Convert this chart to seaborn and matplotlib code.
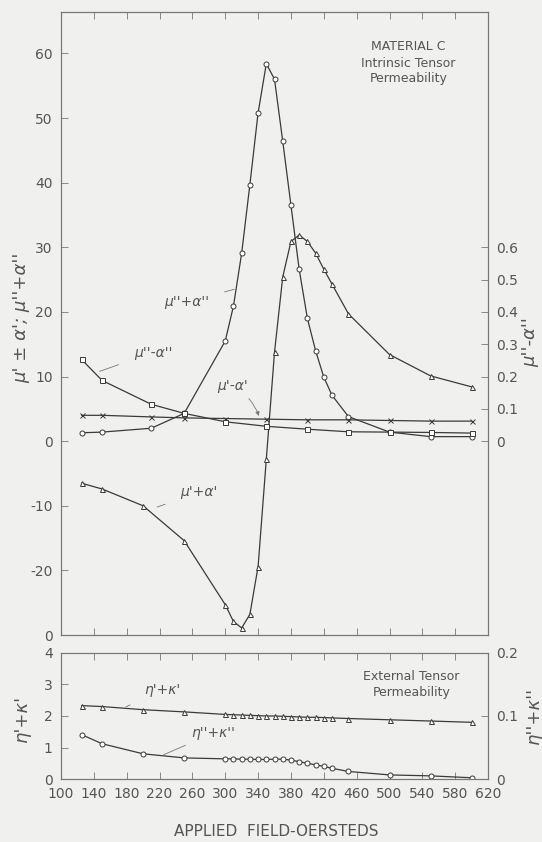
import matplotlib
matplotlib.use("Agg")
import matplotlib.pyplot as plt
import seaborn as sns

# --- data (applied field in oersteds) ---
mu2_plus_x = [125, 150, 210, 250, 300, 310, 320, 330, 340, 350, 360, 370, 380, 390, 400, 410, 420, 430, 450, 500, 550, 600]
mu2_plus = [1.3, 1.4, 2.0, 4.3, 15.5, 20.9, 29.1, 39.7, 50.8, 58.4, 56.0, 46.4, 36.5, 26.6, 19.0, 14.0, 9.9, 7.1, 3.8, 1.4, 0.7, 0.7]

mu1_plus_x = [125, 150, 200, 250, 300, 310, 320, 330, 340, 350, 360, 370, 380, 390, 400, 410, 420, 430, 450, 500, 550, 600]
mu1_plus = [-6.5, -7.4, -10.0, -15.4, -25.3, -27.9, -28.9, -26.8, -19.4, -2.8, 13.8, 25.4, 30.9, 31.9, 30.9, 29.1, 26.6, 24.3, 19.7, 13.4, 10.1, 8.4]

minus_x = [125, 150, 210, 250, 300, 350, 400, 450, 500, 550, 600]
mu1_minus = [4.0, 4.0, 3.75, 3.6, 3.5, 3.4, 3.3, 3.3, 3.2, 3.1, 3.1]
mu2_minus = [0.253, 0.188, 0.114, 0.086, 0.060, 0.046, 0.037, 0.029, 0.028, 0.027, 0.025]

eta_x = [125, 150, 200, 250, 300, 310, 320, 330, 340, 350, 360, 370, 380, 390, 400, 410, 420, 430, 450, 500, 550, 600]
eta1 = [2.33, 2.30, 2.20, 2.13, 2.05, 2.04, 2.03, 2.02, 2.01, 2.00, 2.00, 1.99, 1.98, 1.97, 1.96, 1.96, 1.95, 1.94, 1.92, 1.88, 1.84, 1.80]
eta2 = [0.0705, 0.056, 0.040, 0.0335, 0.032, 0.032, 0.0315, 0.0315, 0.031, 0.031, 0.0315, 0.0315, 0.030, 0.0275, 0.025, 0.0225, 0.020, 0.017, 0.012, 0.0065, 0.005, 0.002]

left_ticks = [-30, -20, -10, 0, 10, 20, 30, 40, 50, 60]
left_tick_labels = ["0", "-20", "-10", "0", "10", "20", "30", "40", "50", "60"]
x_ticks = list(range(100, 621, 40))

sns.set_theme(style="ticks")
bg = "#f0f0ef"
ink = "#3a3a3a"
txt = "#555555"
plt.rcParams["font.family"] = ["DejaVu Sans"]
plt.rcParams["axes.edgecolor"] = "#777777"
plt.rcParams["axes.linewidth"] = 0.8

fig = plt.figure(figsize=(5.42, 8.42), dpi=100, facecolor=bg)
ax = fig.add_axes([0.1125, 0.2458, 0.788, 0.7399], facecolor=bg)
ax_r = ax.twinx()
bx = fig.add_axes([0.1125, 0.0748, 0.788, 0.1497], facecolor=bg)
bx_r = bx.twinx()

line_kw = dict(color=ink, linewidth=0.9, markersize=3.6, markeredgewidth=0.7,
               markeredgecolor=ink, estimator=None)

sns.lineplot(x=mu2_plus_x, y=mu2_plus, ax=ax, marker="o", markerfacecolor="white", **line_kw)
sns.lineplot(x=mu1_plus_x, y=mu1_plus, ax=ax, marker="^", markerfacecolor="white", **line_kw)
sns.lineplot(x=minus_x, y=mu1_minus, ax=ax, marker="x", **line_kw)
sns.lineplot(x=minus_x, y=mu2_minus, ax=ax_r, marker="s", markerfacecolor="white", **line_kw)

sns.lineplot(x=eta_x, y=eta1, ax=bx, marker="^", markerfacecolor="white", **line_kw)
sns.lineplot(x=eta_x, y=eta2, ax=bx_r, marker="o", markerfacecolor="white", **line_kw)

# axes limits and ticks
for a in (ax, bx):
    a.set_xlim(100, 620)
    a.set_xticks(x_ticks)
ax.set_ylim(-30, 66.4)
ax_r.set_ylim(-0.6, 1.328)
ax.set_yticks(left_ticks)
ax.set_yticklabels(left_tick_labels)
ax_r.set_yticks([0, 0.1, 0.2, 0.3, 0.4, 0.5, 0.6])
ax_r.set_yticklabels(["0", "0.1", "0.2", "0.3", "0.4", "0.5", "0.6"])
bx.set_ylim(0, 4)
bx_r.set_ylim(0, 0.2)
bx.set_yticks([0, 1, 2, 3, 4])
bx_r.set_yticks([0, 0.1, 0.2])
bx_r.set_yticklabels(["0", "0.1", "0.2"])

for a in (ax, ax_r, bx, bx_r):
    a.tick_params(direction="in", length=5, width=0.6, colors="#777777",
                  labelcolor=txt, labelsize=10, pad=6)
    a.set_xlabel("")
    a.set_ylabel("")
ax.tick_params(axis="x", top=True, labelbottom=False)
bx.tick_params(axis="x", top=True)
ax_r.tick_params(axis="x", top=False, bottom=False)
bx_r.tick_params(axis="x", top=False, bottom=False)

# axis titles
fig.text(0.04, 1 - 318 / 842, "μ' ± α'; μ''+α''", rotation=90, ha="center", va="center",
         fontsize=13, color=txt, style="italic")
fig.text(0.978, 1 - 342 / 842, "μ''-α''", rotation=90, ha="center", va="center",
         fontsize=13, color=txt, style="italic")
fig.text(0.04, 1 - 718 / 842, "η'+κ'", rotation=90, ha="center", va="center",
         fontsize=13, color=txt, style="italic")
fig.text(0.985, 1 - 715 / 842, "η''+κ''", rotation=90, ha="center", va="center",
         fontsize=13, color=txt, style="italic")
fig.text(0.51, 1 - 832 / 842, "APPLIED  FIELD-OERSTEDS", ha="center", va="center",
         fontsize=11, color=txt)

# panel captions
ax.text(0.813, 0.944, "MATERIAL C", transform=ax.transAxes, ha="center", va="center",
        fontsize=9, color=txt)
ax.text(0.813, 0.917, "Intrinsic Tensor", transform=ax.transAxes, ha="center", va="center",
        fontsize=9, color=txt)
ax.text(0.813, 0.894, "Permeability", transform=ax.transAxes, ha="center", va="center",
        fontsize=9, color=txt)
bx.text(0.82, 0.81, "External Tensor", transform=bx.transAxes, ha="center", va="center",
        fontsize=9, color=txt)
bx.text(0.82, 0.69, "Permeability", transform=bx.transAxes, ha="center", va="center",
        fontsize=9, color=txt)

# curve labels with short leaders near the curves
arrow = dict(arrowstyle="-", color="#777777", lw=0.6, shrinkA=9, shrinkB=0)
ax.annotate("μ''+α''", xy=(311, 23.5), xytext=(253, 21.5), ha="center", va="center",
            fontsize=10, color=txt, style="italic", arrowprops=arrow)
ax.annotate("μ''-α''", xy=(147, 10.8), xytext=(212, 13.7), ha="center", va="center",
            fontsize=10, color=txt, style="italic", arrowprops=arrow)
ax.annotate("μ'-α'", xy=(341, 3.9), xytext=(309, 8.5), ha="center", va="center",
            fontsize=10, color=txt, style="italic",
            arrowprops=dict(arrowstyle="-|>", color="#777777", lw=0.6, shrinkA=2, shrinkB=0,
                            mutation_scale=6, connectionstyle="arc3,rad=-0.2"))
ax.annotate("μ'+α'", xy=(217, -10.2), xytext=(268, -7.9), ha="center", va="center",
            fontsize=10, color=txt, style="italic", arrowprops=arrow)
bx.annotate("η'+κ'", xy=(179, 2.29), xytext=(224, 2.84), ha="center", va="center",
            fontsize=10, color=txt, style="italic", arrowprops=arrow)
bx.annotate("η''+κ''", xy=(225, 0.77), xytext=(285, 1.45), ha="center", va="center",
            fontsize=10, color=txt, style="italic", arrowprops=dict(arrow, shrinkA=3))

fig.savefig("out.png", dpi=100, facecolor=bg)
